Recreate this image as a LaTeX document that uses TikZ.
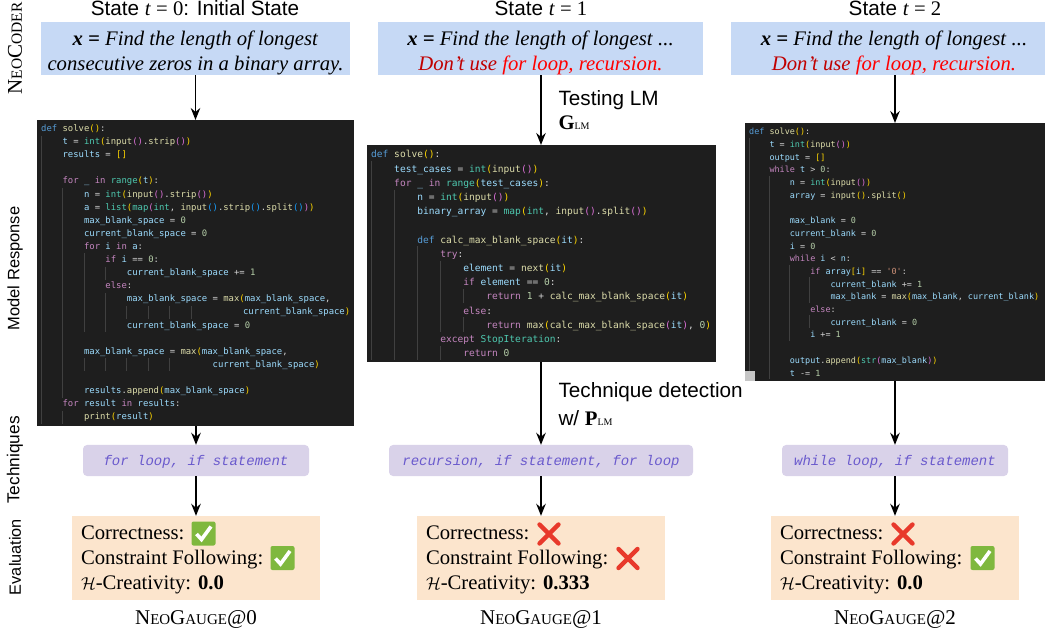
\documentclass[tikz,border=0pt]{standalone}
\usepackage{amsmath}
\usepackage{fontspec}
\usepackage{tikz}
\usetikzlibrary{arrows.meta, positioning}
\setmainfont{Liberation Serif}
\newfontfamily\headfont{Liberation Sans}
\newfontfamily\codefont{DejaVu Sans Mono}
\newfontfamily\techfont{Liberation Mono}
\definecolor{taskblue}{HTML}{C6D9F5}
\definecolor{techpurple}{HTML}{D9D2E9}
\definecolor{techink}{HTML}{6A5ACD}
\definecolor{evalorange}{HTML}{FCE5CD}
\definecolor{codebg}{HTML}{1E1E1E}
\definecolor{codefg}{HTML}{D4D4D4}
\definecolor{codeguide}{HTML}{404040}
\definecolor{ckwcol}{HTML}{C586C0}
\definecolor{cdfcol}{HTML}{569CD6}
\definecolor{cfncol}{HTML}{DCDCAA}
\definecolor{cbicol}{HTML}{4EC9B0}
\definecolor{cvrcol}{HTML}{9CDCFE}
\definecolor{cnmcol}{HTML}{B5CEA8}
\definecolor{cstcol}{HTML}{CE9178}
\definecolor{paircola}{HTML}{FFD700}
\definecolor{paircolb}{HTML}{DA70D6}
\definecolor{paircolc}{HTML}{179FFF}
\definecolor{darkred}{HTML}{C00000}
\definecolor{nored}{HTML}{E8392B}
\definecolor{okgreen}{HTML}{7FB83E}
\newcommand{\ckw}[1]{\textcolor{ckwcol}{#1}}
\newcommand{\cdf}[1]{\textcolor{cdfcol}{#1}}
\newcommand{\cfn}[1]{\textcolor{cfncol}{#1}}
\newcommand{\cbi}[1]{\textcolor{cbicol}{#1}}
\newcommand{\cvr}[1]{\textcolor{cvrcol}{#1}}
\newcommand{\cnm}[1]{\textcolor{cnmcol}{#1}}
\newcommand{\cst}[1]{\textcolor{cstcol}{#1}}
\newcommand{\pa}[1]{\textcolor{paircola}{#1}}
\newcommand{\pb}[1]{\textcolor{paircolb}{#1}}
\newcommand{\pc}[1]{\textcolor{paircolc}{#1}}
\newcommand{\fsz}[2]{\fontsize{#1}{#2}\selectfont}
\newcommand{\lmsub}{{\fsz{10}{10}LM}}
\newcommand{\gaugename}[1]{N{\fsz{15}{16}EO}G{\fsz{15}{16}AUGE}@#1}
\newcommand{\scoreline}[1]{{\fsz{18}{18}$\mathcal{H}$}-Creativity: \textbf{#1}}
\newcommand{\taskhead}{\rule{0pt}{23pt}{\bfseries\itshape x =} \textit{Find the length of longest}}
\newcommand{\taskrule}{\textit{\textcolor{darkred}{Don’t use} \textcolor{red}{for loop, recursion.}}}

\begin{document}
\begin{tikzpicture}[x=1pt, y=-1pt,
    task/.style={fill=taskblue, inner sep=0pt, minimum height=53pt, align=flush center, font=\fsz{20.7}{25}},
    code/.style={fill=codebg, inner xsep=4pt, inner ysep=0pt, align=flush left, text=codefg, anchor=north west},
    tech/.style={fill=techpurple, rounded corners=4pt, minimum height=31pt, inner sep=0pt, text=techink, text height=10pt, text depth=0pt, font=\techfont\itshape\fsz{14}{16}},
    eval/.style={fill=evalorange, inner xsep=9pt, inner ysep=0pt, minimum height=84pt, text width=230pt, align=flush left, font=\fsz{20.7}{25}},
    head/.style={font=\headfont\fsz{20.7}{22}},
    side/.style={rotate=90, font=\headfont\fsz{17.3}{18}},
    flow/.style={-{Stealth[length=12pt,width=9.5pt,inset=4pt]}, line width=1.8pt},
    guideline/.style={codeguide, line width=0.5pt},
    okmark/.pic={
        \fill[okgreen, rounded corners=2pt] (-12,-12) rectangle (12,12);
        \draw[white, line width=3.6pt] (-7,0.5) -- (-2,6) -- (7.5,-7);
    },
    nomark/.pic={
        \draw[nored, line width=4.4pt, line cap=round] (-9.5,-9.5) -- (9.5,9.5) (-9.5,9.5) -- (9.5,-9.5);
    }]
    \useasboundingbox (0,0) rectangle (1045,636);

    % Row labels
    \node[side, font=\fsz{21}{22}] (rowcoder) at (15,48.5) {N{\fsz{15.5}{16}EO}C{\fsz{15.5}{16}ODER}};
    \node[side, font=\headfont\fsz{16.5}{18}] (rowresp) at (15,268.5) {Model Response};
    \node[side] (rowtech) at (15,460) {Techniques};
    \node[side, font=\headfont\fsz{16.3}{18}] (roweval) at (15,557) {Evaluation};

    % State 0
    \node[head] (head0) at (195,8) {State {\rmfamily\textit{t} = 0}: Initial State};
    \node[task, minimum width=309pt] (task0) at (195.5,48.5) {\taskhead\\ \textit{consecutive zeros in a binary array.}};
    \node[code, minimum width=317pt, minimum height=306pt, text width=309pt, font=\codefont\fsz{8.9}{13.1}] (code0) at (37,120) {%
\cdf{def} \cfn{solve}\pa{()}:\\
~~~~\cvr{t} = \cbi{int}\pa{(}\cfn{input}\pb{()}.\cfn{strip}\pb{()}\pa{)}\\
~~~~\cvr{results} = \pa{[]}\\
\mbox{}\\
~~~~\ckw{for} \cvr{\_} \ckw{in} \cbi{range}\pa{(}\cvr{t}\pa{)}:\\
~~~~~~~~\cvr{n} = \cbi{int}\pa{(}\cfn{input}\pb{()}.\cfn{strip}\pb{()}\pa{)}\\
~~~~~~~~\cvr{a} = \cbi{list}\pa{(}\cbi{map}\pb{(}\cbi{int}, \cfn{input}\pc{()}.\cfn{strip}\pc{()}.\cfn{split}\pc{()}\pb{)}\pa{)}\\
~~~~~~~~\cvr{max\_blank\_space} = \cnm{0}\\
~~~~~~~~\cvr{current\_blank\_space} = \cnm{0}\\
~~~~~~~~\ckw{for} \cvr{i} \ckw{in} \cvr{a}:\\
~~~~~~~~~~~~\ckw{if} \cvr{i} == \cnm{0}:\\
~~~~~~~~~~~~~~~~\cvr{current\_blank\_space} += \cnm{1}\\
~~~~~~~~~~~~\ckw{else}:\\
~~~~~~~~~~~~~~~~\cvr{max\_blank\_space} = \cfn{max}\pa{(}\cvr{max\_blank\_space},\\
~~~~~~~~~~~~~~~~~~~~~~~~~~~~~~~~~~~~~~~~\cvr{current\_blank\_space}\pa{)}\\
~~~~~~~~~~~~~~~~\cvr{current\_blank\_space} = \cnm{0}\\
\mbox{}\\
~~~~~~~~\cvr{max\_blank\_space} = \cfn{max}\pa{(}\cvr{max\_blank\_space},\\
~~~~~~~~~~~~~~~~~~~~~~~~~~~~~~~~\cvr{current\_blank\_space}\pa{)}\\
\mbox{}\\
~~~~~~~~\cvr{results}.\cfn{append}\pa{(}\cvr{max\_blank\_space}\pa{)}\\
~~~~\ckw{for} \cvr{result} \ckw{in} \cvr{results}:\\
~~~~~~~~\cfn{print}\pa{(}\cvr{result}\pa{)}};
    \foreach \c/\a/\b in {0/2/23, 1/6/21, 1/23/23, 2/11/16, 3/12/12, 3/14/16, 2/19/19, 3/19/19, 4/19/19, 5/19/19, 6/19/19, 3/15/15, 4/15/15, 5/15/15, 6/15/15, 7/15/15}
        \draw[guideline] ({41+21.4*\c},{122.5+13.1*(\a-1)}) -- ({41+21.4*\c},{122.5+13.1*\b});
    \node[tech, minimum width=226pt] (tech0) at (196,460.5) {for loop, if statement};
    \node[eval] (eval0) at (196,558) {\rule{0pt}{18pt}Correctness:\\ Constraint Following:\\ \scoreline{0.0}};
    \pic at (203.5,533.5) {okmark};
    \pic at (282.5,558) {okmark};
    \node[font=\fsz{21}{22}] (gauge0) at (196,619) {\gaugename{0}};
    \draw[flow] (task0.south) -- (task0.south |- code0.north);
    \draw[flow] (tech0.north |- code0.south) -- (tech0.north);
    \draw[flow] (tech0.south) -- (eval0.north);

    % State 1
    \node[head] (head1) at (541,8) {State {\rmfamily\textit{t} = 1}};
    \node[task, minimum width=325pt] (task1) at (540.5,48.5) {\taskhead\ \textit{...}\\ \taskrule};
    \node[code, minimum width=349pt, minimum height=217pt, text width=341pt, font=\codefont\fsz{9.57}{14.2}] (code1) at (367,145) {%
\cdf{def} \cfn{solve}\pa{()}:\\
~~~~\cvr{test\_cases} = \cbi{int}\pa{(}\cfn{input}\pb{()}\pa{)}\\
~~~~\ckw{for} \cvr{\_} \ckw{in} \cbi{range}\pa{(}\cvr{test\_cases}\pa{)}:\\
~~~~~~~~\cvr{n} = \cbi{int}\pa{(}\cfn{input}\pb{()}\pa{)}\\
~~~~~~~~\cvr{binary\_array} = \cbi{map}\pa{(}\cbi{int}, \cfn{input}\pb{()}.\cfn{split}\pb{()}\pa{)}\\
\mbox{}\\
~~~~~~~~\cdf{def} \cfn{calc\_max\_blank\_space}\pa{(}\cvr{it}\pa{)}:\\
~~~~~~~~~~~~\ckw{try}:\\
~~~~~~~~~~~~~~~~\cvr{element} = \cfn{next}\pa{(}\cvr{it}\pa{)}\\
~~~~~~~~~~~~~~~~\ckw{if} \cvr{element} == \cnm{0}:\\
~~~~~~~~~~~~~~~~~~~~\ckw{return} \cnm{1} + \cfn{calc\_max\_blank\_space}\pa{(}\cvr{it}\pa{)}\\
~~~~~~~~~~~~~~~~\ckw{else}:\\
~~~~~~~~~~~~~~~~~~~~\ckw{return} \cfn{max}\pa{(}\cfn{calc\_max\_blank\_space}\pb{(}\cvr{it}\pb{)}, \cnm{0}\pa{)}\\
~~~~~~~~~~~~\ckw{except} \cbi{StopIteration}:\\
~~~~~~~~~~~~~~~~\ckw{return} \cnm{0}};
    \foreach \c/\a/\b in {0/2/15, 1/4/15, 2/8/15, 3/9/13, 3/15/15, 4/11/11, 4/13/13}
        \draw[guideline] ({371+23*\c},{147+14.2*(\a-1)}) -- ({371+23*\c},{147+14.2*\b});
    \node[tech, minimum width=304pt] (tech1) at (541,460.5) {recursion, if statement, for loop};
    \node[eval] (eval1) at (541,558) {\rule{0pt}{18pt}Correctness:\\ Constraint Following:\\ \scoreline{0.333}};
    \pic at (549,534) {nomark};
    \pic at (628,558.5) {nomark};
    \node[font=\fsz{21}{22}] (gauge1) at (541,619) {\gaugename{1}};
    \node[head, anchor=west] (lblgen) at (555,100) {Testing LM};
    \node[head, anchor=west] (lblgenb) at (555,123) {{\rmfamily\bfseries G}{\rmfamily\lmsub}};
    \node[head, anchor=west] (lbldet) at (555,392) {Technique detection};
    \node[head, anchor=west] (lbldetb) at (555,418) {w/ {\rmfamily\bfseries P}{\rmfamily\lmsub}};
    \draw[flow] (tech1.north |- task1.south) -- (tech1.north |- code1.north);
    \draw[flow] (tech1.north |- code1.south) -- (tech1.north);
    \draw[flow] (tech1.south) -- (eval1.north);

    % State 2
    \node[head] (head2) at (895,8) {State {\rmfamily\textit{t} = 2}};
    \node[task, minimum width=326pt] (task2) at (894,48.5) {\taskhead\ \textit{...}\\ \taskrule};
    \node[code, minimum width=300pt, minimum height=258pt, text width=292pt, font=\codefont\fsz{8.45}{12.7}] (code2) at (745,123) {%
\cdf{def} \cfn{solve}\pa{()}:\\
~~~~\cvr{t} = \cbi{int}\pa{(}\cfn{input}\pb{()}\pa{)}\\
~~~~\cvr{output} = \pa{[]}\\
~~~~\ckw{while} \cvr{t} > \cnm{0}:\\
~~~~~~~~\cvr{n} = \cbi{int}\pa{(}\cfn{input}\pb{()}\pa{)}\\
~~~~~~~~\cvr{array} = \cfn{input}\pa{()}.\cfn{split}\pa{()}\\
\mbox{}\\
~~~~~~~~\cvr{max\_blank} = \cnm{0}\\
~~~~~~~~\cvr{current\_blank} = \cnm{0}\\
~~~~~~~~\cvr{i} = \cnm{0}\\
~~~~~~~~\ckw{while} \cvr{i} < \cvr{n}:\\
~~~~~~~~~~~~\ckw{if} \cvr{array}\pa{[}\cvr{i}\pa{]} == \cst{'0'}:\\
~~~~~~~~~~~~~~~~\cvr{current\_blank} += \cnm{1}\\
~~~~~~~~~~~~~~~~\cvr{max\_blank} = \cfn{max}\pa{(}\cvr{max\_blank}, \cvr{current\_blank}\pa{)}\\
~~~~~~~~~~~~\ckw{else}:\\
~~~~~~~~~~~~~~~~\cvr{current\_blank} = \cnm{0}\\
~~~~~~~~~~~~\cvr{i} += \cnm{1}\\
\mbox{}\\
~~~~~~~~\cvr{output}.\cfn{append}\pa{(}\cbi{str}\pb{(}\cvr{max\_blank}\pb{)}\pa{)}\\
~~~~~~~~\cvr{t} -= \cnm{1}};
    \foreach \c/\a/\b in {0/2/20, 1/5/20, 2/12/17, 3/13/14, 3/16/16}
        \draw[guideline] ({749+20.1*\c},{125+12.7*(\a-1)}) -- ({749+20.1*\c},{125+12.7*\b});
    \fill[gray!45] (745,371) rectangle (755,381);
    \node[tech, minimum width=226pt] (tech2) at (895,460.5) {while loop, if statement};
    \node[eval] (eval2) at (895,558) {\rule{0pt}{18pt}Correctness:\\ Constraint Following:\\ \scoreline{0.0}};
    \pic at (903,534) {nomark};
    \pic at (982.5,558) {okmark};
    \node[font=\fsz{21}{22}] (gauge2) at (895,619) {\gaugename{2}};
    \draw[flow] (tech2.north |- task2.south) -- (tech2.north |- code2.north);
    \draw[flow] (tech2.north |- code2.south) -- (tech2.north);
    \draw[flow] (tech2.south) -- (eval2.north);
\end{tikzpicture}
\end{document}
